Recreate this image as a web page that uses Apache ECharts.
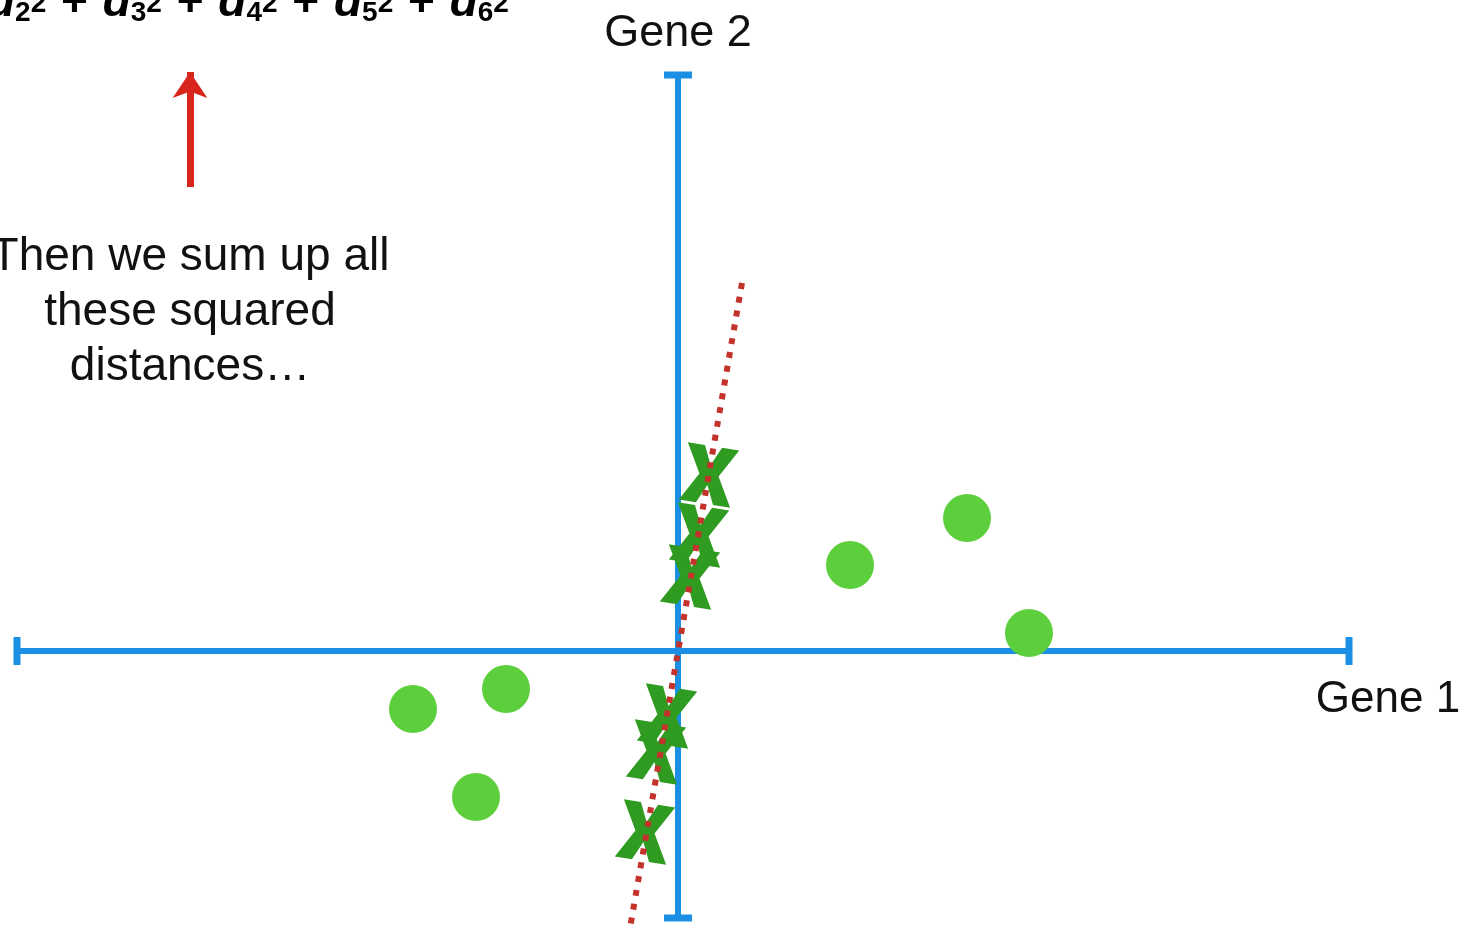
<!DOCTYPE html>
<html>
<head>
<meta charset="utf-8">
<script src="https://cdn.jsdelivr.net/npm/echarts@6/dist/echarts.min.js"></script>
<style>
  html, body { margin: 0; padding: 0; background: #fff; }
  #container1 { width: 1466px; height: 928px; }
</style>
</head>
<body>
<div id="container1"></div>
<script>
// gene 1 / gene 2 values, 1 unit = 10px on the page
var axisGene1 = [-66.1, 67.1];
var axisGene2 = [-26.7, 57.6];

// the six samples (green dots)
var sampleGene1 = [-26.5, -17.2, -20.2, 17.2, 28.9, 35.1];
var sampleGene2 = [-5.8, -3.8, -14.6, 8.6, 13.3, 1.8];

// where they land on the red line (green X)
var projGene1 = [-2.2, -1.1, -3.3, 2.1, 3.1, 1.2];
var projGene2 = [-10.1, -6.5, -18.1, 11.6, 17.6, 7.4];

// red dotted line ends
var lineGene1 = [6.4, -4.8];
var lineGene2 = [36.8, -27.7];

// red arrow (bottom, top)
var arrowGene1 = [-48.8, -48.8];
var arrowGene2 = [46.4, 57.9];

(function() {
  var dom1 = document.getElementById("container1");
  var myChart1 = echarts.init(dom1);

  var blue = "#1b8fe4";
  // bold letter X
  var xPath = "path://M0,0 L17,0 L25.5,19 L34,0 L51,0 L35,29 L51,58 L34,58 L25.5,39 L17,58 L0,58 L16,29 Z";

  var dots = sampleGene1.map(function(v, i) { return [v, sampleGene2[i]]; });
  var marks = projGene1.map(function(v, i) { return [v, projGene2[i]]; });
  var redLine = lineGene1.map(function(v, i) { return [v, lineGene2[i]]; });
  var arrow = arrowGene1.map(function(v, i) { return [v, arrowGene2[i]]; });

  function axis(range) {
    return {
      type: "value",
      min: range[0],
      max: range[1],
      axisLine: {
        onZero: true,
        symbol: ["rect", "rect"],
        symbolSize: [28, 7],
        lineStyle: { color: blue, width: 6 }
      },
      axisTick: { show: false },
      axisLabel: { show: false },
      splitLine: { show: false }
    };
  }

  var font = "Liberation Sans, Arial, sans-serif";
  var term = function(n) { return "{d|d}{sub|" + n + "}{sup|2}"; };

  var option1 = {
    animation: false,
    backgroundColor: "#fff",
    grid: { left: 17, right: 117, top: 75, bottom: 10 },
    xAxis: axis(axisGene1),
    yAxis: axis(axisGene2),
    graphic: [
      {
        type: "text", x: 678, y: 34,
        style: { text: "Gene 2", font: "45px " + font, fill: "#111", textAlign: "center", textVerticalAlign: "middle" }
      },
      {
        type: "text", x: 1388, y: 700,
        style: { text: "Gene 1", font: "44px " + font, fill: "#111", textAlign: "center", textVerticalAlign: "middle" }
      },
      {
        type: "text", x: 190, y: 312,
        style: {
          text: "Then we sum up all\nthese squared\ndistances…",
          font: "46px " + font, lineHeight: 55, fill: "#111",
          textAlign: "center", textVerticalAlign: "middle"
        }
      },
      {
        type: "text", x: -13, y: -21,
        style: {
          text: [2, 3, 4, 5, 6].map(term).join("{op| + }"),
          textAlign: "left", textVerticalAlign: "top",
          rich: {
            d: { fontSize: 46, lineHeight: 48, fontWeight: "bold", fontStyle: "italic", fontFamily: font, fill: "#000" },
            op: { fontSize: 46, lineHeight: 48, fontWeight: "bold", fontFamily: font, fill: "#000", padding: [0, 2, 0, 2] },
            sub: { fontSize: 28, lineHeight: 28, fontWeight: "bold", fontFamily: font, fill: "#000", verticalAlign: "bottom" },
            sup: { fontSize: 28, lineHeight: 40, fontWeight: "bold", fontFamily: font, fill: "#000", verticalAlign: "top", padding: [11, 0, 0, 0] }
          }
        }
      }
    ],
    series: [
      {
        name: "samples",
        type: "scatter",
        data: dots,
        symbolSize: 48,
        itemStyle: { color: "#5dcf3d", opacity: 1 },
        z: 3
      },
      {
        name: "projected",
        type: "scatter",
        data: marks,
        symbol: xPath,
        symbolSize: [52, 58],
        symbolRotate: -9,
        itemStyle: { color: "#2f9c21", opacity: 1 },
        z: 4
      },
      {
        name: "line",
        type: "line",
        data: redLine,
        symbol: "none",
        clip: false,
        lineStyle: { color: "#c3332c", width: 6, type: [6, 8] },
        z: 5
      },
      {
        name: "arrow",
        type: "lines",
        coordinateSystem: "cartesian2d",
        clip: false,
        symbol: ["none", "arrow"],
        symbolSize: 26,
        lineStyle: { color: "#d9261c", width: 7, opacity: 1 },
        data: [{ coords: arrow }],
        z: 5
      }
    ]
  };
  if (option1 && typeof option1 === "object") {
    myChart1.setOption(option1, true);
  }
})();
</script>
</body>
</html>
